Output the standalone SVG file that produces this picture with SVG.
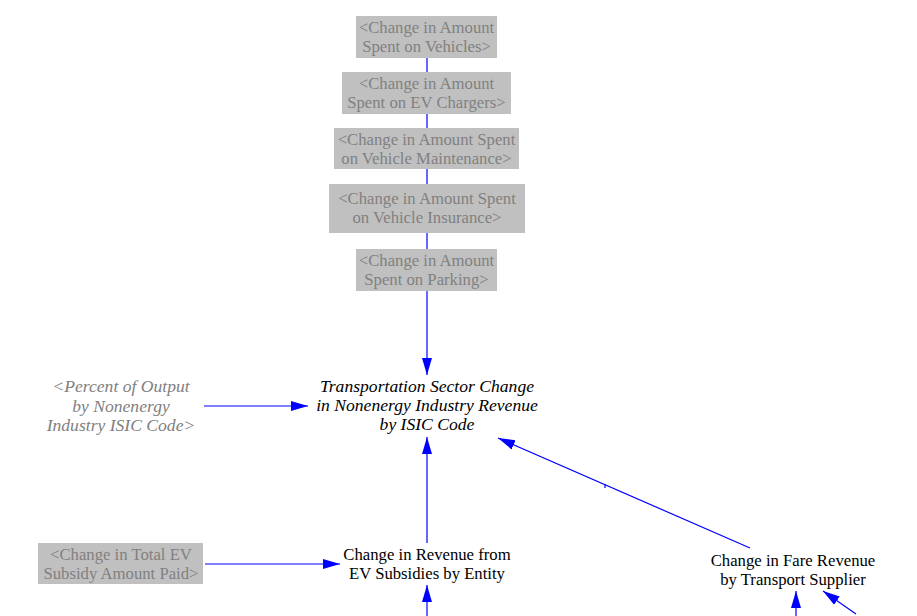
<svg xmlns="http://www.w3.org/2000/svg" width="917" height="616" viewBox="0 0 917 616">
<style>
  .t { font-family: "Liberation Serif", "Times New Roman", serif; font-size: 16.7px; text-anchor: middle; }
  .shadow { fill: #808080; }
  .box { fill: #c0c0c0; }
  .var { fill: #000000; }
  .it { font-style: italic; font-size: 17.6px; }
  .ln { stroke: #0000ff; stroke-width: 1.2; fill: none; }
</style>
<defs>
  <marker id="ah" markerUnits="userSpaceOnUse" markerWidth="18" markerHeight="12" refX="17" refY="6" orient="auto">
    <path d="M0,1 L17,6 L0,11 Z" fill="#0000ff"/>
  </marker>
</defs>
<rect width="917" height="616" fill="#ffffff"/>

<g id="connectors">
  <line class="ln" x1="427" y1="58" x2="427" y2="72"/>
  <line class="ln" x1="427" y1="114" x2="427" y2="128"/>
  <line class="ln" x1="427" y1="169" x2="427" y2="184"/>
  <line class="ln" x1="427" y1="233" x2="427" y2="249"/>
  <line class="ln" x1="427" y1="291" x2="427" y2="375" marker-end="url(#ah)"/>
  <line class="ln" x1="204" y1="406" x2="308" y2="406" marker-end="url(#ah)"/>
  <line class="ln" x1="427" y1="543" x2="427" y2="437" marker-end="url(#ah)"/>
  <line class="ln" x1="750" y1="548" x2="498" y2="438" marker-end="url(#ah)"/>
  <line class="ln" x1="605" y1="484" x2="605" y2="488"/>
  <line class="ln" x1="205" y1="564" x2="340" y2="564" marker-end="url(#ah)"/>
  <line class="ln" x1="427" y1="616" x2="427" y2="585" marker-end="url(#ah)"/>
  <line class="ln" x1="796" y1="616" x2="796" y2="591" marker-end="url(#ah)"/>
  <line class="ln" x1="856" y1="614" x2="823" y2="591" marker-end="url(#ah)"/>
</g>

<g id="node-vehicles">
  <rect class="box" x="356" y="16" width="141" height="42"/>
  <text class="t shadow" x="426.5" y="33">&lt;Change in Amount</text>
  <text class="t shadow" x="426.5" y="52">Spent on Vehicles&gt;</text>
</g>
<g id="node-chargers">
  <rect class="box" x="342" y="72" width="169" height="42"/>
  <text class="t shadow" x="426.5" y="89">&lt;Change in Amount</text>
  <text class="t shadow" x="426.5" y="108">Spent on EV Chargers&gt;</text>
</g>
<g id="node-maintenance">
  <rect class="box" x="334" y="128" width="185" height="41"/>
  <text class="t shadow" x="426.5" y="145">&lt;Change in Amount Spent</text>
  <text class="t shadow" x="426.5" y="164">on Vehicle Maintenance&gt;</text>
</g>
<g id="node-insurance">
  <rect class="box" x="329" y="184" width="196" height="49"/>
  <text class="t shadow" x="427" y="204">&lt;Change in Amount Spent</text>
  <text class="t shadow" x="427" y="223">on Vehicle Insurance&gt;</text>
</g>
<g id="node-parking">
  <rect class="box" x="356" y="249" width="141" height="42"/>
  <text class="t shadow" x="426.5" y="266">&lt;Change in Amount</text>
  <text class="t shadow" x="426.5" y="285">Spent on Parking&gt;</text>
</g>
<g id="node-percent">
  <text class="t shadow it" x="121" y="392">&lt;Percent of Output</text>
  <text class="t shadow it" x="121" y="412">by Nonenergy</text>
  <text class="t shadow it" x="121" y="431">Industry ISIC Code&gt;</text>
</g>
<g id="node-transport">
  <text class="t var it" x="427" y="392">Transportation Sector Change</text>
  <text class="t var it" x="427" y="411">in Nonenergy Industry Revenue</text>
  <text class="t var it" x="427" y="430">by ISIC Code</text>
</g>
<g id="node-total-ev">
  <rect class="box" x="38" y="543" width="165" height="41"/>
  <text class="t shadow" x="121" y="560">&lt;Change in Total EV</text>
  <text class="t shadow" x="121" y="579">Subsidy Amount Paid&gt;</text>
</g>
<g id="node-ev-subsidies">
  <text class="t var" x="427" y="560">Change in Revenue from</text>
  <text class="t var" x="427" y="579">EV Subsidies by Entity</text>
</g>
<g id="node-fare">
  <text class="t var" x="793" y="566">Change in Fare Revenue</text>
  <text class="t var" x="793" y="585">by Transport Supplier</text>
</g>
</svg>
